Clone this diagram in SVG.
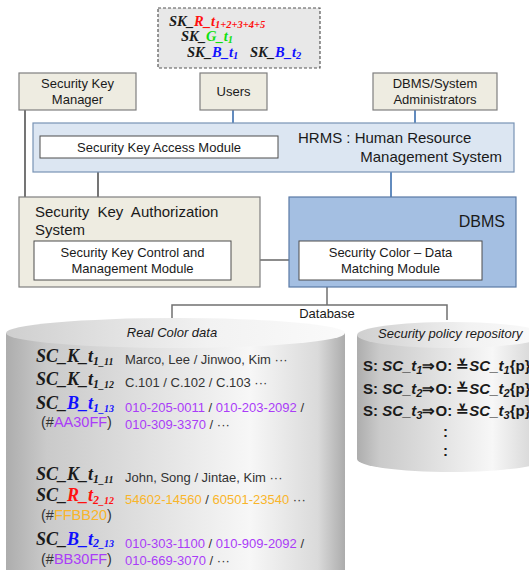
<svg xmlns="http://www.w3.org/2000/svg" width="529" height="570" viewBox="0 0 529 570">
  <style>
    .sans { font-family: "Liberation Sans", Arial, sans-serif; }
    .box { font-family: "Liberation Sans", Arial, sans-serif; font-size: 13px; fill: #1a1a1a; }
    .big { font-family: "Liberation Sans", Arial, sans-serif; font-size: 15px; fill: #1a1a1a; }
    .beige { fill: #eeece1; stroke: #7f7f7f; stroke-width: 1.2; }
    .white { fill: #ffffff; stroke: #4d4d4d; stroke-width: 1; }
    .key { font-family: "Liberation Serif", "Times New Roman", serif; font-weight: bold; font-style: italic; font-size: 14.5px; fill: #1a1a1a; }
    .lab { font-family: "Liberation Serif", "Times New Roman", serif; font-weight: bold; font-style: italic; font-size: 18px; fill: #1a1a1a; }
    .sub { font-size: 12px; }
    .ksub { font-size: 10.5px; }
    .sub2 { font-size: 10px; }
    .data { font-family: "Liberation Sans", Arial, sans-serif; font-size: 13px; fill: #333333; }
    .hex { font-family: "Liberation Sans", Arial, sans-serif; font-size: 14.5px; fill: #333333; }
    .pol { font-family: "Liberation Sans", Arial, sans-serif; font-size: 15px; font-weight: bold; fill: #1a1a1a; }
    .it { font-style: italic; }
    .red { fill: #ff1010; }
    .green { fill: #10e010; }
    .blue { fill: #1010ff; }
    .purple { fill: #aa3cf8; }
    .orange { fill: #f9b52a; }
    .link { fill: none; stroke: #1a1a1a; stroke-width: 1.2; }
    .blink { fill: none; stroke: #2e64a8; stroke-width: 1.5; }
    .glink { fill: none; stroke: #707070; stroke-width: 1.5; }
  </style>
  <defs>
    <linearGradient id="cylBody" x1="0" y1="0" x2="1" y2="0">
      <stop offset="0" stop-color="#adadad"/>
      <stop offset="0.12" stop-color="#cacaca"/>
      <stop offset="0.72" stop-color="#f7f7f7"/>
      <stop offset="0.92" stop-color="#dadada"/>
      <stop offset="1" stop-color="#acacac"/>
    </linearGradient>
    <linearGradient id="cylTop" x1="0" y1="0" x2="1" y2="0">
      <stop offset="0" stop-color="#cfcfcf"/>
      <stop offset="0.6" stop-color="#f2f2f2"/>
      <stop offset="1" stop-color="#fafafa"/>
    </linearGradient>
  </defs>

  <!-- connectors -->
  <g id="connectors">
    <path class="link" d="M25,110 V197"/>
    <path class="link" d="M98,158 V241"/>
    <path class="link" d="M231,260 H299"/>
    <path class="blink" d="M233,110 V123"/>
    <path class="blink" d="M415,110 V123"/>
    <path class="blink" d="M391,172 V197"/>
    <path class="glink" d="M327,287 V305 M172,320 V305 H447 V320"/>
  </g>

  <!-- key set legend -->
  <g id="key-set">
    <rect x="158" y="8" width="162" height="60" fill="#e8e8e8" stroke="#555555" stroke-width="1.2" stroke-dasharray="3,2"/>
    <text class="key" x="169" y="26">SK_<tspan class="red">R_t<tspan class="ksub" dy="2">1+2+3+4+5</tspan></tspan></text>
    <text class="key" x="181" y="41">SK_<tspan class="green">G_t<tspan class="ksub" dy="2">1</tspan></tspan></text>
    <text class="key" x="187" y="57">SK_<tspan class="blue">B_t<tspan class="ksub" dy="2">1</tspan></tspan></text>
    <text class="key" x="250" y="57">SK_<tspan class="blue">B_t<tspan class="ksub" dy="2">2</tspan></tspan></text>
  </g>

  <g id="security-key-manager">
    <rect class="beige" x="19" y="73" width="117" height="37"/>
    <text class="box" x="77.5" y="88" text-anchor="middle">Security Key</text>
    <text class="box" x="77.5" y="104" text-anchor="middle">Manager</text>
  </g>

  <g id="users">
    <rect class="beige" x="200" y="73" width="67" height="37"/>
    <text class="box" x="233.5" y="96" text-anchor="middle">Users</text>
  </g>

  <g id="administrators">
    <rect class="beige" x="373" y="73" width="124" height="37"/>
    <text class="box" x="435" y="88" text-anchor="middle">DBMS/System</text>
    <text class="box" x="435" y="104" text-anchor="middle">Administrators</text>
  </g>

  <g id="hrms">
    <rect x="33" y="123" width="481" height="49" fill="#dce6f2" stroke="#7893b5" stroke-width="1.2"/>
    <text class="big" x="298" y="143">HRMS : Human Resource</text>
    <text class="big" x="502" y="162" text-anchor="end">Management System</text>
  </g>

  <g id="key-access-module">
    <rect class="white" x="40" y="136" width="238" height="22"/>
    <text class="box" x="159" y="152" text-anchor="middle">Security Key Access Module</text>
  </g>

  <g id="key-authorization-system">
    <rect class="beige" x="19" y="197" width="241" height="90"/>
    <text class="big" x="35" y="217" xml:space="preserve">Security  Key  Authorization</text>
    <text class="big" x="35" y="235">System</text>
  </g>

  <g id="key-control-module">
    <rect class="white" x="34" y="241" width="197" height="39"/>
    <text class="box" x="132.5" y="257" text-anchor="middle">Security Key Control and</text>
    <text class="box" x="132.5" y="273" text-anchor="middle">Management Module</text>
  </g>

  <g id="dbms">
    <rect x="289" y="197" width="227" height="90" fill="#a4bfe2" stroke="#5a7aa6" stroke-width="1.2"/>
    <text class="sans" x="505" y="227" text-anchor="end" font-size="16" fill="#1a1a1a">DBMS</text>
  </g>

  <g id="color-matching-module">
    <rect class="white" x="299" y="241" width="183" height="39"/>
    <text class="box" x="390.5" y="257" text-anchor="middle">Security Color – Data</text>
    <text class="box" x="390.5" y="273" text-anchor="middle">Matching Module</text>
  </g>

  <g id="database-label">
    <text class="box" x="327" y="318" text-anchor="middle">Database</text>
  </g>

  <!-- real color data store -->
  <g id="real-color-data">
    <path d="M6,333 V590 H345 V333 Z" fill="url(#cylBody)"/>
    <ellipse cx="175.5" cy="333" rx="169.5" ry="15" fill="url(#cylTop)"/>
    <text class="box it" x="172" y="337" text-anchor="middle">Real Color data</text>

    <text class="lab" x="36" y="362">SC_K_t<tspan class="sub" dy="3">1</tspan><tspan class="sub2">_11</tspan></text>
    <text class="data" x="125" y="364">Marco, Lee / Jinwoo, Kim ···</text>

    <text class="lab" x="36" y="385">SC_K_t<tspan class="sub" dy="3">1</tspan><tspan class="sub2">_12</tspan></text>
    <text class="data" x="125" y="387">C.101 / C.102 / C.103 ···</text>

    <text class="lab" x="36" y="409">SC_<tspan class="blue">B_t<tspan class="sub" dy="3">1</tspan><tspan class="sub2">_13</tspan></tspan></text>
    <text class="hex" x="41" y="427">(#<tspan class="purple">AA30FF</tspan>)</text>
    <text class="data" x="125" y="412"><tspan class="purple">010-205-0011</tspan> / <tspan class="purple">010-203-2092</tspan> /</text>
    <text class="data" x="125" y="429"><tspan class="purple">010-309-3370</tspan> / ···</text>

    <text class="lab" x="36" y="480">SC_K_t<tspan class="sub" dy="3">1</tspan><tspan class="sub2">_11</tspan></text>
    <text class="data" x="125" y="482">John, Song / Jintae, Kim ···</text>

    <text class="lab" x="36" y="501">SC_<tspan class="red">R_t<tspan class="sub" dy="3">2</tspan><tspan class="sub2">_12</tspan></tspan></text>
    <text class="data" x="125" y="504"><tspan class="orange">54602-14560</tspan> / <tspan class="orange">60501-23540</tspan> ···</text>
    <text class="hex" x="41" y="520">(#<tspan class="orange">FFBB20</tspan>)</text>

    <text class="lab" x="36" y="545">SC_<tspan class="blue">B_t<tspan class="sub" dy="2">2</tspan><tspan class="sub2">_13</tspan></tspan></text>
    <text class="hex" x="41" y="564">(#<tspan class="purple">BB30FF</tspan>)</text>
    <text class="data" x="125" y="548"><tspan class="purple">010-303-1100</tspan> / <tspan class="purple">010-909-2092</tspan> /</text>
    <text class="data" x="125" y="565"><tspan class="purple">010-669-3070</tspan> / ···</text>
  </g>

  <!-- security policy store -->
  <g id="policy-repository">
    <path d="M357,335 V459 A94,13 0 0 0 545,459 V335 Z" fill="url(#cylBody)"/>
    <ellipse cx="451" cy="335" rx="94" ry="13" fill="url(#cylTop)"/>
    <text class="box it" x="378" y="338">Security policy repository</text>
    <text class="pol" x="363" y="371">S: <tspan class="it">SC_t<tspan font-size="11" dy="3">1</tspan></tspan><tspan dy="-3">⇒O: ≚</tspan><tspan class="it">SC_t<tspan font-size="11" dy="3">1</tspan></tspan><tspan dy="-3">{p}</tspan></text>
    <text class="pol" x="363" y="394">S: <tspan class="it">SC_t<tspan font-size="11" dy="3">2</tspan></tspan><tspan dy="-3">⇒O: ≚</tspan><tspan class="it">SC_t<tspan font-size="11" dy="3">2</tspan></tspan><tspan dy="-3">{p}</tspan></text>
    <text class="pol" x="363" y="416">S: <tspan class="it">SC_t<tspan font-size="11" dy="3">3</tspan></tspan><tspan dy="-3">⇒O: ≚</tspan><tspan class="it">SC_t<tspan font-size="11" dy="3">3</tspan></tspan><tspan dy="-3">{p}</tspan></text>
    <text class="pol" x="443" y="437">:</text>
    <text class="pol" x="443" y="456">:</text>
  </g>
</svg>
